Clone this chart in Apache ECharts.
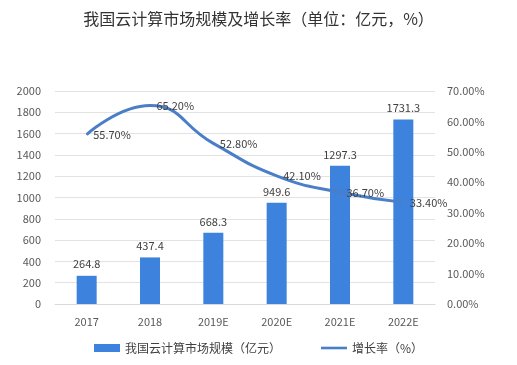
<!DOCTYPE html>
<html><head><meta charset="utf-8">
<script src="https://cdn.jsdelivr.net/npm/echarts@6/dist/echarts.min.js"></script>
<style>html,body{margin:0;padding:0;background:#fff}#c{width:517px;height:365px}</style>
</head><body><div id="c"></div>
<script>
const categories = ['2017','2018','2019E','2020E','2021E','2022E'];
const marketSize = [264.8, 437.4, 668.3, 949.6, 1297.3, 1731.3];
const growthRate = [55.7, 65.2, 52.8, 42.1, 36.7, 33.4];
const barName = '我国云计算市场规模（亿元）';
const lineName = '增长率（%）';
const titleText = '我国云计算市场规模及增长率（单位：亿元，%）';

const chart = echarts.init(document.getElementById('c'));
const font = '"Microsoft YaHei","Noto Sans CJK SC",sans-serif';
chart.setOption({
  animation: false,
  textStyle: {fontFamily: font},
  title: {text: titleText, left: 'center', top: 6,
    textStyle: {fontSize: 16, fontWeight: 'normal', color: '#333', fontFamily: font}},
  legend: {bottom: 6, itemGap: 40, itemWidth: 26, itemHeight: 8,
    textStyle: {fontSize: 12, color: '#404040'},
    data: [{name: barName, icon: 'rect'}, {name: lineName, icon: 'path://M0,0 L30,0 L30,3 L0,3 Z'}]},
  grid: {left: 55, right: 82, top: 91, bottom: 61},
  xAxis: {type: 'category', data: categories,
    axisLine: {lineStyle: {color: '#d9d9d9'}}, axisTick: {show: false},
    axisLabel: {color: '#595959', fontSize: 11, margin: 12}},
  yAxis: [
    {type: 'value', min: 0, max: 2000, interval: 200,
      axisLine: {show: false}, axisTick: {show: false},
      axisLabel: {color: '#595959', fontSize: 11, margin: 14, formatter: v => String(v)},
      splitLine: {lineStyle: {color: '#e3e3e3'}}},
    {type: 'value', min: 0, max: 70, interval: 10,
      axisLine: {show: false}, axisTick: {show: false},
      axisLabel: {color: '#595959', fontSize: 11, margin: 12, formatter: v => v.toFixed(2) + '%'},
      splitLine: {show: false}}
  ],
  series: [
    {name: barName, type: 'bar', data: marketSize, barWidth: 20,
      itemStyle: {color: '#3d82dc'},
      label: {show: true, position: 'top', color: '#404040', fontSize: 11, distance: 6}},
    {name: lineName, type: 'line', yAxisIndex: 1, data: growthRate, smooth: true,
      showSymbol: true, symbol: 'circle', symbolSize: 1,
      lineStyle: {color: '#4a7ec8', width: 3}, itemStyle: {color: '#4a7ec8'},
      label: {show: true, position: 'right', color: '#404040', fontSize: 11, distance: 6,
        formatter: p => p.value.toFixed(2) + '%'}}
  ]
});
</script></body></html>
